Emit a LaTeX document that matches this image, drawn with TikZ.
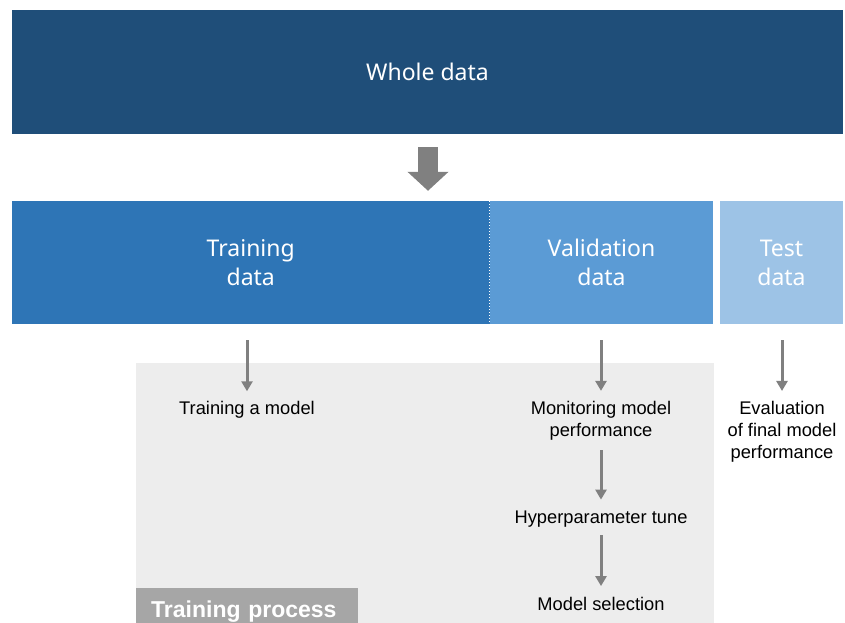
\documentclass[tikz,border=0pt]{standalone}
\usepackage{fontspec}
\setmainfont{Liberation Sans}
\newfontfamily\boxfont{Noto Sans}
\usetikzlibrary{arrows.meta,positioning,calc}
\definecolor{wholedata}{RGB}{31,78,121}
\definecolor{traindata}{RGB}{46,117,182}
\definecolor{validdata}{RGB}{91,155,213}
\definecolor{testdata}{RGB}{157,195,230}
\definecolor{process}{RGB}{237,237,237}
\definecolor{processlabel}{RGB}{166,166,166}
\definecolor{flowgray}{RGB}{128,128,128}
\tikzstyle{databox}=[rectangle, inner sep=0pt, text=white, align=center, font=\boxfont\fontsize{23}{29}\selectfont]
\tikzstyle{task}=[align=center, inner sep=2pt, font=\fontsize{18.3}{21.8}\selectfont]
\tikzstyle{flow}=[-{Triangle[width=11pt,length=10pt]}, line width=3pt, color=flowgray]
\tikzstyle{split}=[-{Triangle[width=40pt,length=19pt]}, line width=20pt, color=flowgray]
\tikzset{y=-1pt}
\tikzset{x=1pt}

\begin{document}
\begin{tikzpicture}
  \useasboundingbox (0,0) rectangle (845,623);
  % whole data and its split
  \draw (427.5,72) node[databox,fill=wholedata,minimum width=831,minimum height=124] (whole) {Whole data};
  \draw (250.75,262.5) node[databox,fill=traindata,minimum width=477.5,minimum height=123] (train) {Training\\data};
  \draw (601.5,262.5) node[databox,fill=validdata,minimum width=223,minimum height=123] (valid) {Validation\\data};
  \draw (781.5,262.5) node[databox,fill=testdata,minimum width=123,minimum height=123] (test) {Test\\data};
  \draw[white,dotted,line width=1pt] (train.north east) -- (train.south east);

  \draw[split,shorten <=13pt,shorten >=10pt] ($(whole.south)+(0.5,0)$) -- ($(train.north -| whole.south)+(0.5,0)$);

  %% Training process
  \draw (425,493) node[fill=process,minimum width=578,minimum height=260,inner sep=0pt] (proc) {};
  \draw (136,588) node[anchor=north west,fill=processlabel,minimum width=222,minimum height=35,inner sep=0pt,
    text width=222,text height=23pt,text depth=0pt,align=left,text=white,font=\bfseries\fontsize{23}{27}\selectfont] (proclabel) {\hspace*{15pt}Training process};

  \draw (247,410) node[task] (fit) {Training a model};
  \draw (601,420.5) node[task] (monitor) {Monitoring model\\performance};
  \draw (601,519) node[task] (tune) {Hyperparameter tune};
  \draw (601,604) node[task] (select) {Model selection};
  \draw (782,431.5) node[task] (evaluate) {Evaluation\\of final model\\performance};

  \draw[flow,shorten <=16pt,shorten >=8pt] (fit.north |- train.south) -- (fit.north);
  \draw[flow,shorten <=16pt,shorten >=8pt] (monitor.north |- valid.south) -- (monitor.north);
  \draw[flow,shorten <=16pt,shorten >=8pt] (evaluate.north |- test.south) -- (evaluate.north);
  \draw[flow,shorten <=8pt,shorten >=9pt] (monitor) -- (tune);
  \draw[flow,shorten <=6pt,shorten >=9pt] (tune) -- (select);
\end{tikzpicture}
\end{document}
